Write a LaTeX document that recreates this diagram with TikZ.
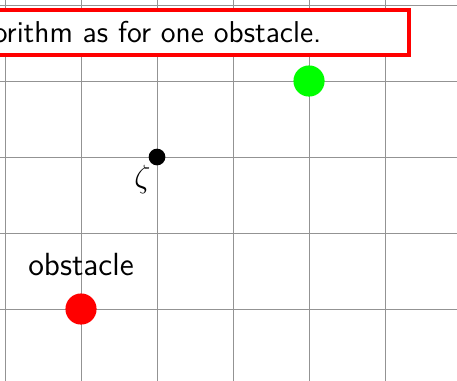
\documentclass[tikz,border=0pt]{standalone}
\usepackage{tikz}
\usetikzlibrary{positioning}
\renewcommand{\familydefault}{\sfdefault}

\begin{document}
\begin{tikzpicture}[
  dot/.style={circle,inner sep=0pt},
  msgbox/.style={draw=red,line width=1.5pt,fill=white},
  font=\fontsize{12}{14}\selectfont\sffamily
]
\useasboundingbox (-0.066,-0.947) rectangle (5.947,4.066);
\draw[gray!85,line width=0.35pt] (-1,-2) grid (7,5);
\draw[msgbox] (-2,3.342) rectangle (5.316,3.934);
\node[anchor=base east,inner sep=0pt,font=\fontsize{11.3}{14}\selectfont\sffamily] (msg) at (4.17,3.51) {orithm as for one obstacle.};
\node[dot,fill=red,minimum size=4.1mm] (obstacle) at (1,0) {};
\node[above=1mm of obstacle] (obslabel) {obstacle};
\node[dot,fill=green,minimum size=4.1mm] (goal) at (4,3) {};
\node[dot,fill=black,minimum size=2.2mm,label={[xshift=1.2mm,yshift=1mm]below left:$\zeta$}] (zeta) at (2,2) {};
\end{tikzpicture}
\end{document}
